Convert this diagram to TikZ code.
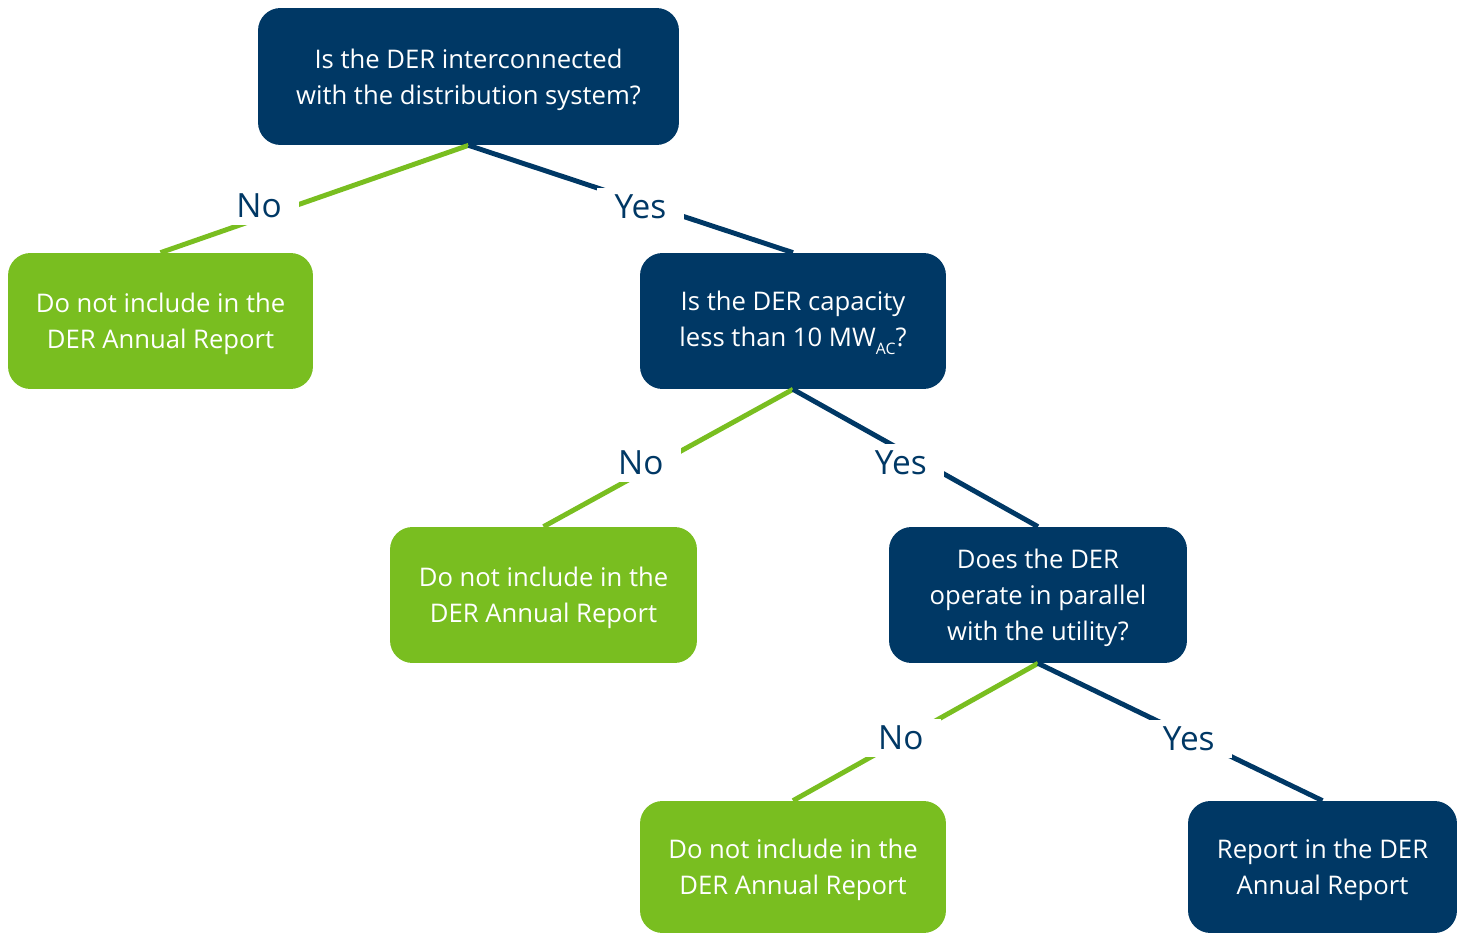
\documentclass[tikz,border=0pt]{standalone}
\usepackage{fontspec}
\setmainfont{Open Sans}
\definecolor{derblue}{RGB}{0,56,101}
\definecolor{dergreen}{RGB}{121,190,32}
\newcommand{\subAC}{\raisebox{-0.55ex}{\fontsize{9}{9}\selectfont AC}}
\tikzset{
  qbox/.style={draw=none, fill=derblue, text=white, rounded corners=0.45cm,
    align=center, font=\fontsize{14.6}{20.5}\selectfont, inner sep=0pt,
    text depth=0pt},
  nobox/.style={qbox, fill=dergreen},
  yesline/.style={derblue, line width=2.8pt},
  noline/.style={dergreen, line width=2.8pt},
  ans/.style={fill=white, text=derblue, font=\fontsize{19}{24}\selectfont,
    inner xsep=10pt, inner ysep=4pt},
}
\begin{document}
\begin{tikzpicture}[x=0.02cm, y=-0.02cm]
    \useasboundingbox (0,0) rectangle (1465,935);
    % questions
    \node[qbox, minimum width=8.42cm, minimum height=2.74cm] (q1) at (468.5,76.5)
        {Is the DER interconnected\\with the distribution system?};
    \node[qbox, text depth=2pt, minimum width=6.12cm, minimum height=2.72cm] (q2) at (793,321)
        {Is the DER capacity\\less than 10 MW\subAC?};
    \node[qbox, text depth=-2pt, minimum width=5.96cm, minimum height=2.72cm] (q3) at (1038,595)
        {Does the DER\\operate in parallel\\with the utility?};
    % outcomes
    \node[nobox, minimum width=6.10cm, minimum height=2.72cm] (n1) at (160.5,321)
        {Do not include in the\\DER Annual Report};
    \node[nobox, minimum width=6.14cm, minimum height=2.72cm] (n2) at (543.5,595)
        {Do not include in the\\DER Annual Report};
    \node[nobox, text depth=-2pt, minimum width=6.12cm, minimum height=2.64cm] (n3) at (793,867)
        {Do not include in the\\DER Annual Report};
    \node[qbox, text depth=-2pt, minimum width=5.38cm, minimum height=2.64cm] (r1) at (1322.5,867)
        {Report in the DER\\Annual Report};
    % branches
    \draw[noline] (q1.south) -- (n1.north) node[ans, pos=0.68, yshift=0.25cm] {No};
    \draw[yesline] (q1.south) -- (q2.north) node[ans, pos=0.53, yshift=-0.1cm] {Yes};
    \draw[noline] (q2.south) -- (n2.north) node[ans, pos=0.61, yshift=0.2cm] {No};
    \draw[yesline] (q2.south) -- (q3.north) node[ans, pos=0.44, yshift=-0.26cm] {Yes};
    \draw[noline] (q3.south) -- (n3.north) node[ans, pos=0.56, yshift=0.04cm] {No};
    \draw[yesline] (q3.south) -- (r1.north) node[ans, pos=0.53, yshift=-0.06cm] {Yes};
\end{tikzpicture}
\end{document}
